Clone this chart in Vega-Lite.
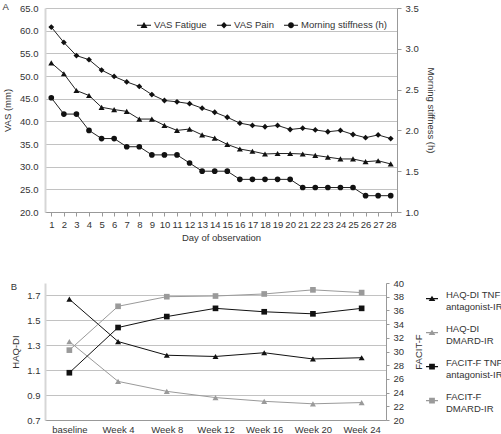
{
  "$schema": "https://vega.github.io/schema/vega-lite/v6.json",
  "padding": {"left": 2, "top": 1, "right": 0, "bottom": 0},
  "background": "white",
  "config": {
    "font": "Liberation Sans",
    "view": {"stroke": null},
    "axis": {"labelFont": "Liberation Sans", "labelFontSize": 9.5, "labelColor": "#333", "titleFont": "Liberation Sans", "titleFontSize": 9.5, "titleFontWeight": "normal", "titleColor": "#333", "gridColor": "#c2c2c2", "domainColor": "#999", "tickColor": "#999"},
    "legend": {"labelFont": "Liberation Sans", "labelFontSize": 9.5, "labelColor": "#333"},
    "title": {"font": "Liberation Sans", "fontSize": 9.5, "fontWeight": "normal", "color": "#333"},
    "concat": {"spacing": 36}
  },
  "datasets": {
    "vas": [
      {"day":1,"series":"VAS Fatigue","value":52.9},{"day":2,"series":"VAS Fatigue","value":50.5},{"day":3,"series":"VAS Fatigue","value":46.8},{"day":4,"series":"VAS Fatigue","value":45.7},{"day":5,"series":"VAS Fatigue","value":43.1},{"day":6,"series":"VAS Fatigue","value":42.6},{"day":7,"series":"VAS Fatigue","value":42.2},{"day":8,"series":"VAS Fatigue","value":40.5},{"day":9,"series":"VAS Fatigue","value":40.5},{"day":10,"series":"VAS Fatigue","value":39.1},{"day":11,"series":"VAS Fatigue","value":38.0},{"day":12,"series":"VAS Fatigue","value":38.3},{"day":13,"series":"VAS Fatigue","value":37.0},{"day":14,"series":"VAS Fatigue","value":36.3},{"day":15,"series":"VAS Fatigue","value":34.9},{"day":16,"series":"VAS Fatigue","value":33.9},{"day":17,"series":"VAS Fatigue","value":33.4},{"day":18,"series":"VAS Fatigue","value":32.8},{"day":19,"series":"VAS Fatigue","value":32.9},{"day":20,"series":"VAS Fatigue","value":32.9},{"day":21,"series":"VAS Fatigue","value":32.8},{"day":22,"series":"VAS Fatigue","value":32.5},{"day":23,"series":"VAS Fatigue","value":32.1},{"day":24,"series":"VAS Fatigue","value":31.7},{"day":25,"series":"VAS Fatigue","value":31.7},{"day":26,"series":"VAS Fatigue","value":31.1},{"day":27,"series":"VAS Fatigue","value":31.3},{"day":28,"series":"VAS Fatigue","value":30.6},
      {"day":1,"series":"VAS Pain","value":60.8},{"day":2,"series":"VAS Pain","value":57.4},{"day":3,"series":"VAS Pain","value":54.5},{"day":4,"series":"VAS Pain","value":53.6},{"day":5,"series":"VAS Pain","value":51.3},{"day":6,"series":"VAS Pain","value":49.9},{"day":7,"series":"VAS Pain","value":48.7},{"day":8,"series":"VAS Pain","value":47.7},{"day":9,"series":"VAS Pain","value":45.9},{"day":10,"series":"VAS Pain","value":44.6},{"day":11,"series":"VAS Pain","value":44.3},{"day":12,"series":"VAS Pain","value":43.9},{"day":13,"series":"VAS Pain","value":42.9},{"day":14,"series":"VAS Pain","value":42.0},{"day":15,"series":"VAS Pain","value":40.9},{"day":16,"series":"VAS Pain","value":39.6},{"day":17,"series":"VAS Pain","value":39.1},{"day":18,"series":"VAS Pain","value":38.8},{"day":19,"series":"VAS Pain","value":39.1},{"day":20,"series":"VAS Pain","value":38.2},{"day":21,"series":"VAS Pain","value":38.5},{"day":22,"series":"VAS Pain","value":38.1},{"day":23,"series":"VAS Pain","value":37.7},{"day":24,"series":"VAS Pain","value":38.0},{"day":25,"series":"VAS Pain","value":37.1},{"day":26,"series":"VAS Pain","value":36.4},{"day":27,"series":"VAS Pain","value":37.0},{"day":28,"series":"VAS Pain","value":36.2}
    ],
    "stiff": [
      {"day":1,"series":"Morning stiffness (h)","value":2.4},{"day":2,"series":"Morning stiffness (h)","value":2.2},{"day":3,"series":"Morning stiffness (h)","value":2.2},{"day":4,"series":"Morning stiffness (h)","value":2.0},{"day":5,"series":"Morning stiffness (h)","value":1.9},{"day":6,"series":"Morning stiffness (h)","value":1.9},{"day":7,"series":"Morning stiffness (h)","value":1.8},{"day":8,"series":"Morning stiffness (h)","value":1.8},{"day":9,"series":"Morning stiffness (h)","value":1.7},{"day":10,"series":"Morning stiffness (h)","value":1.7},{"day":11,"series":"Morning stiffness (h)","value":1.7},{"day":12,"series":"Morning stiffness (h)","value":1.6},{"day":13,"series":"Morning stiffness (h)","value":1.5},{"day":14,"series":"Morning stiffness (h)","value":1.5},{"day":15,"series":"Morning stiffness (h)","value":1.5},{"day":16,"series":"Morning stiffness (h)","value":1.4},{"day":17,"series":"Morning stiffness (h)","value":1.4},{"day":18,"series":"Morning stiffness (h)","value":1.4},{"day":19,"series":"Morning stiffness (h)","value":1.4},{"day":20,"series":"Morning stiffness (h)","value":1.4},{"day":21,"series":"Morning stiffness (h)","value":1.3},{"day":22,"series":"Morning stiffness (h)","value":1.3},{"day":23,"series":"Morning stiffness (h)","value":1.3},{"day":24,"series":"Morning stiffness (h)","value":1.3},{"day":25,"series":"Morning stiffness (h)","value":1.3},{"day":26,"series":"Morning stiffness (h)","value":1.2},{"day":27,"series":"Morning stiffness (h)","value":1.2},{"day":28,"series":"Morning stiffness (h)","value":1.2}
    ],
    "haq": [
      {"visit":"baseline","series":"HAQ-DI TNF antagonist-IR","value":1.67},{"visit":"Week 4","series":"HAQ-DI TNF antagonist-IR","value":1.33},{"visit":"Week 8","series":"HAQ-DI TNF antagonist-IR","value":1.22},{"visit":"Week 12","series":"HAQ-DI TNF antagonist-IR","value":1.21},{"visit":"Week 16","series":"HAQ-DI TNF antagonist-IR","value":1.24},{"visit":"Week 20","series":"HAQ-DI TNF antagonist-IR","value":1.19},{"visit":"Week 24","series":"HAQ-DI TNF antagonist-IR","value":1.2},
      {"visit":"baseline","series":"HAQ-DI DMARD-IR","value":1.33},{"visit":"Week 4","series":"HAQ-DI DMARD-IR","value":1.01},{"visit":"Week 8","series":"HAQ-DI DMARD-IR","value":0.93},{"visit":"Week 12","series":"HAQ-DI DMARD-IR","value":0.88},{"visit":"Week 16","series":"HAQ-DI DMARD-IR","value":0.85},{"visit":"Week 20","series":"HAQ-DI DMARD-IR","value":0.83},{"visit":"Week 24","series":"HAQ-DI DMARD-IR","value":0.84}
    ],
    "facit": [
      {"visit":"baseline","series":"FACIT-F TNF antagonist-IR","value":26.9},{"visit":"Week 4","series":"FACIT-F TNF antagonist-IR","value":33.5},{"visit":"Week 8","series":"FACIT-F TNF antagonist-IR","value":35.1},{"visit":"Week 12","series":"FACIT-F TNF antagonist-IR","value":36.3},{"visit":"Week 16","series":"FACIT-F TNF antagonist-IR","value":35.8},{"visit":"Week 20","series":"FACIT-F TNF antagonist-IR","value":35.5},{"visit":"Week 24","series":"FACIT-F TNF antagonist-IR","value":36.3},
      {"visit":"baseline","series":"FACIT-F DMARD-IR","value":30.2},{"visit":"Week 4","series":"FACIT-F DMARD-IR","value":36.6},{"visit":"Week 8","series":"FACIT-F DMARD-IR","value":38.0},{"visit":"Week 12","series":"FACIT-F DMARD-IR","value":38.1},{"visit":"Week 16","series":"FACIT-F DMARD-IR","value":38.4},{"visit":"Week 20","series":"FACIT-F DMARD-IR","value":39.0},{"visit":"Week 24","series":"FACIT-F DMARD-IR","value":38.6}
    ]
  },
  "vconcat": [
    {
      "title": {"text": "A", "anchor": "start", "frame": "bounds", "offset": -8},
      "width": 352,
      "height": 204,
      "layer": [
        {
          "data": {"name": "vas"},
          "encoding": {
            "x": {"field": "day", "type": "ordinal", "scale": {"type": "point", "padding": 0.5}, "axis": {"title": "Day of observation", "labelAngle": 0, "grid": false, "tickSize": 4, "labelPadding": 3, "titlePadding": 4}},
            "y": {"field": "value", "type": "quantitative", "scale": {"domain": [20, 65], "nice": false, "zero": false}, "axis": {"title": "VAS (mm)", "values": [20, 25, 30, 35, 40, 45, 50, 55, 60, 65], "format": ".1f", "grid": true, "ticks": false, "labelPadding": 7, "titlePadding": 7, "domainColor": "#d6d6d6", "domainWidth": 2}}
          },
          "layer": [
            {"mark": {"type": "line", "color": "#222", "strokeWidth": 1}, "encoding": {"detail": {"field": "series"}}},
            {"transform": [{"filter": "datum.series == 'VAS Fatigue'"}], "mark": {"type": "point", "shape": "triangle-up", "filled": true, "color": "#111", "opacity": 1, "size": 36}},
            {"transform": [{"filter": "datum.series == 'VAS Pain'"}], "mark": {"type": "point", "shape": "diamond", "filled": true, "color": "#111", "opacity": 1, "size": 34}}
          ]
        },
        {
          "data": {"name": "stiff"},
          "encoding": {
            "x": {"field": "day", "type": "ordinal", "scale": {"type": "point", "padding": 0.5}},
            "y": {"field": "value", "type": "quantitative", "scale": {"domain": [1, 3.5], "nice": false, "zero": false}, "axis": {"title": "Morning stiffness (h)", "orient": "right", "values": [1, 1.5, 2, 2.5, 3, 3.5], "format": ".1f", "grid": false, "tickSize": 4, "labelPadding": 4, "titlePadding": 7, "titleAngle": 90}}
          },
          "layer": [
            {"mark": {"type": "line", "color": "#222", "strokeWidth": 1}, "encoding": {}},
            {"mark": {"type": "point", "shape": "circle", "filled": true, "color": "#111", "opacity": 1, "size": 32}}
          ]
        },
        {
          "data": {"name": "stiff"},
          "mark": {"type": "point", "filled": true, "color": "#111", "opacity": 0},
          "encoding": {
            "shape": {"field": "series", "type": "nominal",
              "scale": {"domain": ["VAS Fatigue", "VAS Pain", "Morning stiffness (h)"],
                "range": ["M-1,-0.07H1V0.07H-1ZM0,-0.45L0.5,0.4H-0.5Z", "M-1,-0.07H1V0.07H-1ZM0,-0.45L0.45,0L0,0.45L-0.45,0Z", "M-1,-0.07H1V0.07H-1ZM-0.42,0A0.42,0.42,0,1,1,0.42,0A0.42,0.42,0,1,1,-0.42,0Z"]},
              "legend": {"title": null, "orient": "top-right", "direction": "horizontal", "offset": 10, "symbolSize": 196, "symbolOpacity": 1, "symbolFillColor": "#111", "symbolStrokeWidth": 0, "labelOffset": 3, "columnPadding": 10}}
          }
        }
      ],
      "resolve": {"scale": {"y": "independent"}}
    },
    {
      "title": {"text": "B", "anchor": "start", "frame": "bounds", "offset": -13},
      "width": 341,
      "height": 137,
      "layer": [
        {
          "data": {"name": "haq"},
          "encoding": {
            "x": {"field": "visit", "type": "ordinal", "sort": ["baseline", "Week 4", "Week 8", "Week 12", "Week 16", "Week 20", "Week 24"], "scale": {"type": "point", "padding": 0.5}, "axis": {"title": null, "labelAngle": 0, "ticks": false, "labelPadding": 4, "grid": false}},
            "y": {"field": "value", "type": "quantitative", "scale": {"domain": [0.7, 1.8], "nice": false, "zero": false}, "axis": {"title": "HAQ-DI", "values": [0.7, 0.9, 1.1, 1.3, 1.5, 1.7], "format": ".1f", "grid": true, "ticks": false, "labelPadding": 5, "titlePadding": 6, "domainColor": "#d6d6d6", "domainWidth": 2}},
            "color": {"field": "series", "type": "nominal", "scale": {"domain": ["HAQ-DI TNF antagonist-IR", "HAQ-DI DMARD-IR", "FACIT-F TNF antagonist-IR", "FACIT-F DMARD-IR"], "range": ["#111", "#9a9a9a", "#111", "#9a9a9a"]}}
          },
          "layer": [
            {"mark": {"type": "line", "strokeWidth": 1}},
            {"mark": {"type": "point", "shape": "triangle-up", "filled": true, "opacity": 1, "size": 36}}
          ]
        },
        {
          "data": {"name": "facit"},
          "encoding": {
            "x": {"field": "visit", "type": "ordinal", "sort": ["baseline", "Week 4", "Week 8", "Week 12", "Week 16", "Week 20", "Week 24"], "scale": {"type": "point", "padding": 0.5}},
            "y": {"field": "value", "type": "quantitative", "scale": {"domain": [20, 40], "nice": false, "zero": false}, "axis": {"title": "FACIT-F", "orient": "right", "values": [20, 22, 24, 26, 28, 30, 32, 34, 36, 38, 40], "grid": false, "tickSize": 3, "labelPadding": 4, "titlePadding": 20, "titleAngle": 270}},
            "color": {"field": "series", "type": "nominal", "scale": {"domain": ["HAQ-DI TNF antagonist-IR", "HAQ-DI DMARD-IR", "FACIT-F TNF antagonist-IR", "FACIT-F DMARD-IR"], "range": ["#111", "#9a9a9a", "#111", "#9a9a9a"]}}
          },
          "layer": [
            {"mark": {"type": "line", "strokeWidth": 1}},
            {"mark": {"type": "point", "shape": "square", "filled": true, "opacity": 1, "size": 32}}
          ]
        },
        {
          "data": {"name": "haq"},
          "mark": {"type": "point", "filled": true, "opacity": 0},
          "encoding": {
            "color": {"field": "series", "type": "nominal", "scale": {"domain": ["HAQ-DI TNF antagonist-IR", "HAQ-DI DMARD-IR", "FACIT-F TNF antagonist-IR", "FACIT-F DMARD-IR"], "range": ["#111", "#9a9a9a", "#111", "#9a9a9a"]}},
            "shape": {"field": "series", "type": "nominal",
              "scale": {"domain": ["HAQ-DI TNF antagonist-IR", "HAQ-DI DMARD-IR", "FACIT-F TNF antagonist-IR", "FACIT-F DMARD-IR"],
                "range": ["M-1,0.51H1V0.69H-1ZM0,0.12L0.55,1.0H-0.55Z", "M-1,0.51H1V0.69H-1ZM0,0.12L0.55,1.0H-0.55Z", "M-1,0.51H1V0.69H-1ZM-0.48,0.12H0.48V1.08H-0.48Z", "M-1,0.51H1V0.69H-1ZM-0.48,0.12H0.48V1.08H-0.48Z"]},
              "legend": {"title": null, "orient": "right", "offset": -4, "padding": 6, "symbolSize": 144, "symbolOpacity": 1, "symbolStrokeWidth": 0, "labelOffset": 8, "rowPadding": 12, "labelLimit": 200,
                "labelExpr": "datum.label == 'HAQ-DI TNF antagonist-IR' ? ['HAQ-DI TNF', 'antagonist-IR'] : datum.label == 'HAQ-DI DMARD-IR' ? ['HAQ-DI', 'DMARD-IR'] : datum.label == 'FACIT-F TNF antagonist-IR' ? ['FACIT-F TNF', 'antagonist-IR'] : ['FACIT-F', 'DMARD-IR']"}}
          }
        }
      ],
      "resolve": {"scale": {"y": "independent"}}
    }
  ],
  "resolve": {"scale": {"shape": "independent", "color": "independent"}, "legend": {"shape": "independent", "color": "independent"}}
}
